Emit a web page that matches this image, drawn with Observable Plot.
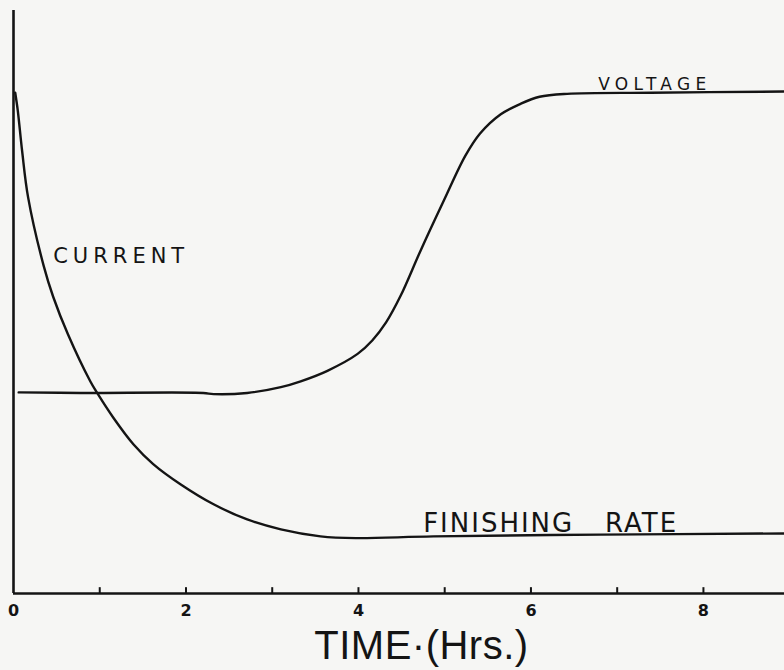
<!DOCTYPE html>
<html>
<head>
<meta charset="utf-8">
<script src="https://cdn.jsdelivr.net/npm/d3@7"></script>
<script src="https://cdn.jsdelivr.net/npm/@observablehq/plot@0.6"></script>
<style>
  html, body { margin: 0; padding: 0; background: #f6f6f4; }
  #chart svg { display: block; }
</style>
</head>
<body>
<div id="chart"></div>
<script>
// Time in hours (x) and relative level (y, arbitrary units 0-100)
const currentTime  = [0.02, 0.05, 0.10, 0.17, 0.35, 0.46, 0.63, 0.89, 0.97, 1.16, 1.39, 1.62, 1.94, 2.32, 2.71, 3.10, 3.56, 3.97, 4.87, 6.81, 8.94];
const currentValue = [85.9, 82.8, 75.9, 67.9, 56.2, 50.9, 44.5, 36.4, 34.4, 30.1, 25.6, 22.2, 18.7, 15.3, 12.7, 11.0,  9.8,  9.5,  9.8, 10.1, 10.3];

const voltageTime  = [0.06, 0.78, 2.20, 2.32, 2.71, 3.10, 3.33, 3.64, 3.99, 4.16, 4.32, 4.49, 4.72, 4.99, 5.24, 5.41, 5.65, 5.88, 6.10, 6.42, 7.39, 8.94];
const voltageValue = [34.5, 34.4, 34.4, 34.2, 34.4, 35.4, 36.4, 38.2, 41.1, 43.4, 46.5, 51.1, 58.8, 67.4, 75.1, 78.9, 82.2, 84.0, 85.2, 85.7, 85.9, 86.1];

const xTickLabels = [0, 2, 4, 6, 8];
const xMinorTicks = [1, 2, 3, 4, 5, 6, 7, 8];

const labelNames = ["CURRENT", "VOLTAGE", "FINISHING   RATE"];
const labelTime  = [0.46, 6.78, 4.75];
const labelValue = [57.9, 86.3, 10.6];

const axisTitle = "TIME\u00B7(Hrs.)";
const axisTitleTime = 4.73;

const current = currentTime.map((t, i) => ({t, v: currentValue[i]}));
const voltage = voltageTime.map((t, i) => ({t, v: voltageValue[i]}));
const labels = labelNames.map((name, i) => ({name, t: labelTime[i], v: labelValue[i]}));

const ink = "#141414";
const hand = "'DejaVu Sans', 'Liberation Sans', sans-serif";

const chart = Plot.plot({
  width: 784,
  height: 670,
  marginLeft: 13,
  marginRight: 0,
  marginTop: 10,
  marginBottom: 77,
  style: {background: "#f6f6f4", color: ink, fontFamily: hand},
  x: {domain: [0, 8.94], axis: null},
  y: {domain: [0, 100], axis: null},
  marks: [
    Plot.ruleY([0], {stroke: ink, strokeWidth: 2.6}),
    Plot.ruleX([0], {stroke: ink, strokeWidth: 2.6}),
    Plot.ruleX(xMinorTicks, {x: d => d, y1: 0, y2: 1.0, stroke: ink, strokeWidth: 2}),
    Plot.text(xTickLabels, {x: d => d, y: 0, dy: 17, text: d => String(d), fontSize: 16, fill: ink, fontWeight: "bold"}),
    Plot.line(current, {x: "t", y: "v", curve: "catmull-rom", stroke: ink, strokeWidth: 2.4}),
    Plot.line(voltage, {x: "t", y: "v", curve: "catmull-rom", stroke: ink, strokeWidth: 2.4}),
    Plot.text(labels.slice(0, 1), {x: "t", y: "v", text: "name", textAnchor: "start", fontSize: 21, fill: ink}),
    Plot.text(labels.slice(1, 2), {x: "t", y: "v", text: "name", textAnchor: "start", lineAnchor: "bottom", fontSize: 17, fill: ink}),
    Plot.text(labels.slice(2, 3), {x: "t", y: "v", text: "name", textAnchor: "start", lineAnchor: "bottom", fontSize: 26, fill: ink}),
    Plot.text([axisTitle], {x: axisTitleTime, y: 0, dy: 65, lineAnchor: "bottom", text: d => d, fontSize: 40, fill: ink, fontFamily: "'Liberation Sans', Arial, sans-serif"})
  ]
});

// hand-lettered look: widen the letter spacing of the labels
const spacing = {"CURRENT": 5, "VOLTAGE": 5.3, "FINISHING   RATE": 2, [axisTitle]: 0.5};
d3.select(chart).selectAll("text").each(function() {
  const s = spacing[this.textContent];
  if (s !== undefined) {
    this.setAttribute("letter-spacing", s);
    this.style.letterSpacing = s + "px";
  }
});

document.getElementById("chart").appendChild(chart);
</script>
</body>
</html>
